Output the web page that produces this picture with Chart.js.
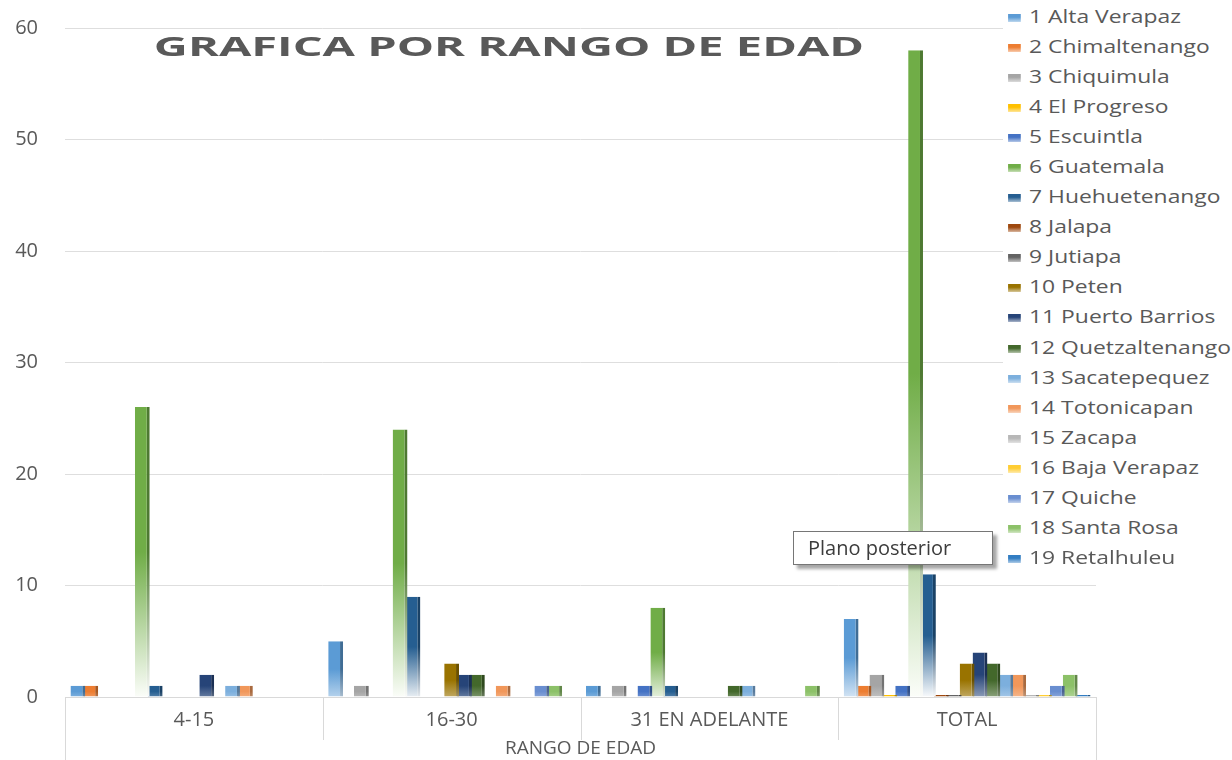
<!DOCTYPE html>
<html>
<head>
<meta charset="utf-8">
<script src="https://cdn.jsdelivr.net/npm/chart.js@4.4.1/dist/chart.umd.min.js"></script>
<style>
  body { margin: 0; background: #fff; }
  #wrap { position: relative; width: 1232px; height: 760px; overflow: hidden; }
  #titulo {
    position: absolute; left: 509px; top: 32px;
    font: bold 27px "Open Sans", sans-serif; line-height: 27px;
    color: #595959; white-space: nowrap;
    transform: translateX(-50%) scaleX(1.74);
  }
  #leyenda {
    position: absolute; left: 1003px; top: 4px; width: 229px; height: 570px;
    background: #fff;
  }
  #leyenda div {
    height: 30.05px; line-height: 30px; white-space: nowrap;
    font: 18px "Open Sans", sans-serif; color: #595959;
    transform: scaleX(1.27); transform-origin: 0 0;
  }
  #leyenda span { display: inline-block; width: 9.5px; height: 8px; margin: 0 7px 0 4px; vertical-align: 1px; }
  #plano {
    position: absolute; left: 793px; top: 531px; height: 32px;
    border: 1px solid #767676; background: #fff;
    box-shadow: 4px 4px 3px rgba(0,0,0,0.35);
    font: 20px "Open Sans", sans-serif; line-height: 32px; color: #3c3c3c;
    padding-left: 14px; width: 184px;
  }
</style>
</head>
<body>
<div id="wrap">
  <canvas id="bar-canvas" width="1232" height="760"></canvas>
  <div id="titulo">GRAFICA POR RANGO DE EDAD</div>
  <div id="leyenda"></div>
  <div id="plano">Plano posterior</div>
</div>
<script>
// rangos de edad
var categories = ["4-15", "16-30", "31 EN ADELANTE", "TOTAL"];
var departamentos = ["1 Alta Verapaz", "2 Chimaltenango", "3 Chiquimula", "4 El Progreso", "5 Escuintla",
  "6 Guatemala", "7 Huehuetenango", "8 Jalapa", "9 Jutiapa", "10 Peten", "11 Puerto Barrios",
  "12 Quetzaltenango", "13 Sacatepequez", "14 Totonicapan", "15 Zacapa", "16 Baja Verapaz",
  "17 Quiche", "18 Santa Rosa", "19 Retalhuleu"];

// valores por departamento (null = celda vacia)
var altaVerapaz    = [1, 5, 1, 7];
var chimaltenango  = [1, null, null, 1];
var chiquimula     = [null, 1, 1, 2];
var elProgreso     = [null, null, null, 0];
var escuintla      = [null, null, 1, 1];
var guatemala      = [26, 24, 8, 58];
var huehuetenango  = [1, 9, 1, 11];
var jalapa         = [null, null, null, 0];
var jutiapa        = [null, null, null, 0];
var peten          = [null, 3, null, 3];
var puertoBarrios  = [2, 2, null, 4];
var quetzaltenango = [null, 2, 1, 3];
var sacatepequez   = [1, null, 1, 2];
var totonicapan    = [1, 1, null, 2];
var zacapa         = [null, null, null, 0];
var bajaVerapaz    = [null, null, null, 0];
var quiche         = [null, 1, null, 1];
var santaRosa      = [null, 1, 1, 2];
var retalhuleu     = [null, null, null, 0];

var yTicks = [0, 10, 20, 30, 40, 50, 60];

var series = [altaVerapaz, chimaltenango, chiquimula, elProgreso, escuintla, guatemala, huehuetenango,
  jalapa, jutiapa, peten, puertoBarrios, quetzaltenango, sacatepequez, totonicapan, zacapa,
  bajaVerapaz, quiche, santaRosa, retalhuleu];

var colores = ["#5B9BD5", "#ED7D31", "#A5A5A5", "#FFC000", "#4472C4", "#70AD47", "#255E91",
  "#9E480E", "#636363", "#997300", "#264478", "#43682B", "#7CAFDD", "#F1975A", "#B7B7B7",
  "#FFCD33", "#698ED0", "#8CC168", "#327DC2"];

function rgb(hex) {
  return [parseInt(hex.substr(1, 2), 16), parseInt(hex.substr(3, 2), 16), parseInt(hex.substr(5, 2), 16)];
}
function mezcla(c, f, to) {
  return "rgb(" + c.map(function(v) { return Math.round(v + (to - v) * f); }).join(",") + ")";
}

// relleno degradado de cada barra, como en excel
function relleno(color, oscuro) {
  var c = rgb(color);
  if (oscuro) c = c.map(function(v) { return Math.round(v * 0.7); });
  var base = mezcla(c, 0, 0);
  return function(ctx) {
    var chart = ctx.chart;
    if (!chart.chartArea || ctx.raw == null) return base;
    var y = chart.scales.y;
    var top = y.getPixelForValue(ctx.raw), bottom = y.getPixelForValue(0);
    var h = bottom - top;
    if (!(h > 2)) return base;
    var fade = Math.min(1, h / 110);
    var g = chart.ctx.createLinearGradient(0, top, 0, bottom);
    g.addColorStop(0, base);
    g.addColorStop(0.5, base);
    g.addColorStop(1, mezcla(c, 0.85 * fade + 0.12, 255));
    return g;
  };
}

var datasets = series.map(function(vals, i) {
  return {
    label: departamentos[i],
    data: vals,
    backgroundColor: relleno(colores[i], false),
    borderColor: relleno(colores[i], true),
    borderWidth: { right: 3, top: 0, left: 0, bottom: 0 },
    borderSkipped: false,
    minBarLength: 2,
    categoryPercentage: 0.95,
    barPercentage: 1.15
  };
});

// leyenda a la derecha
var leyenda = document.getElementById("leyenda");
departamentos.forEach(function(nombre, i) {
  var d = document.createElement("div");
  d.innerHTML = '<span style="background:linear-gradient(' + colores[i] + ' 40%,' + mezcla(rgb(colores[i]), 0.6, 255) + ')"></span>' + nombre;
  leyenda.appendChild(d);
});

// lineas de separacion del eje de categorias
var separadores = {
  id: "separadores",
  afterDraw: function(chart) {
    var c = chart.ctx, x = chart.scales.x, a = chart.chartArea;
    var xs = [a.left];
    for (var i = 0; i < categories.length - 1; i++) {
      xs.push((x.getPixelForTick(i) + x.getPixelForTick(i + 1)) / 2);
    }
    xs.push(a.right);
    c.save();
    c.strokeStyle = "#d9d9d9";
    c.lineWidth = 1;
    xs.forEach(function(px, i) {
      var fin = (i == 0 || i == xs.length - 1) ? chart.height : a.bottom + 43;
      c.beginPath();
      c.moveTo(Math.round(px) + 0.5, a.bottom);
      c.lineTo(Math.round(px) + 0.5, fin);
      c.stroke();
    });
    c.restore();
  }
};

var ctx = document.getElementById("bar-canvas");
var chart = new Chart(ctx, {
  type: "bar",
  data: { labels: categories, datasets: datasets },
  plugins: [separadores],
  options: {
    responsive: false,
    animation: false,
    layout: { padding: { top: 28, right: 136, left: 0, bottom: 0 } },
    plugins: {
      legend: { display: false },
      tooltip: { enabled: false }
    },
    scales: {
      x: {
        grid: { display: false },
        border: { display: true, color: "#d9d9d9" },
        ticks: { color: "#595959", font: { family: "Open Sans", size: 20 }, padding: 3, maxRotation: 0 },
        title: { display: true, text: "RANGO DE EDAD", color: "#595959",
          font: { family: "Open Sans", size: 19 }, padding: { top: 0, bottom: 0 } },
        afterFit: function(s) { s.height = 63; }
      },
      y: {
        min: 0, max: 60,
        afterBuildTicks: function(s) { s.ticks = yTicks.map(function(v) { return { value: v }; }); },
        grid: { color: "#dedede", drawTicks: false },
        border: { display: false },
        ticks: { color: "#595959", font: { family: "Open Sans", size: 20 }, padding: 27 },
        afterFit: function(s) { s.width = 65; s.paddingTop = 0; s.paddingBottom = 0; }
      }
    }
  }
});
</script>
</body>
</html>
